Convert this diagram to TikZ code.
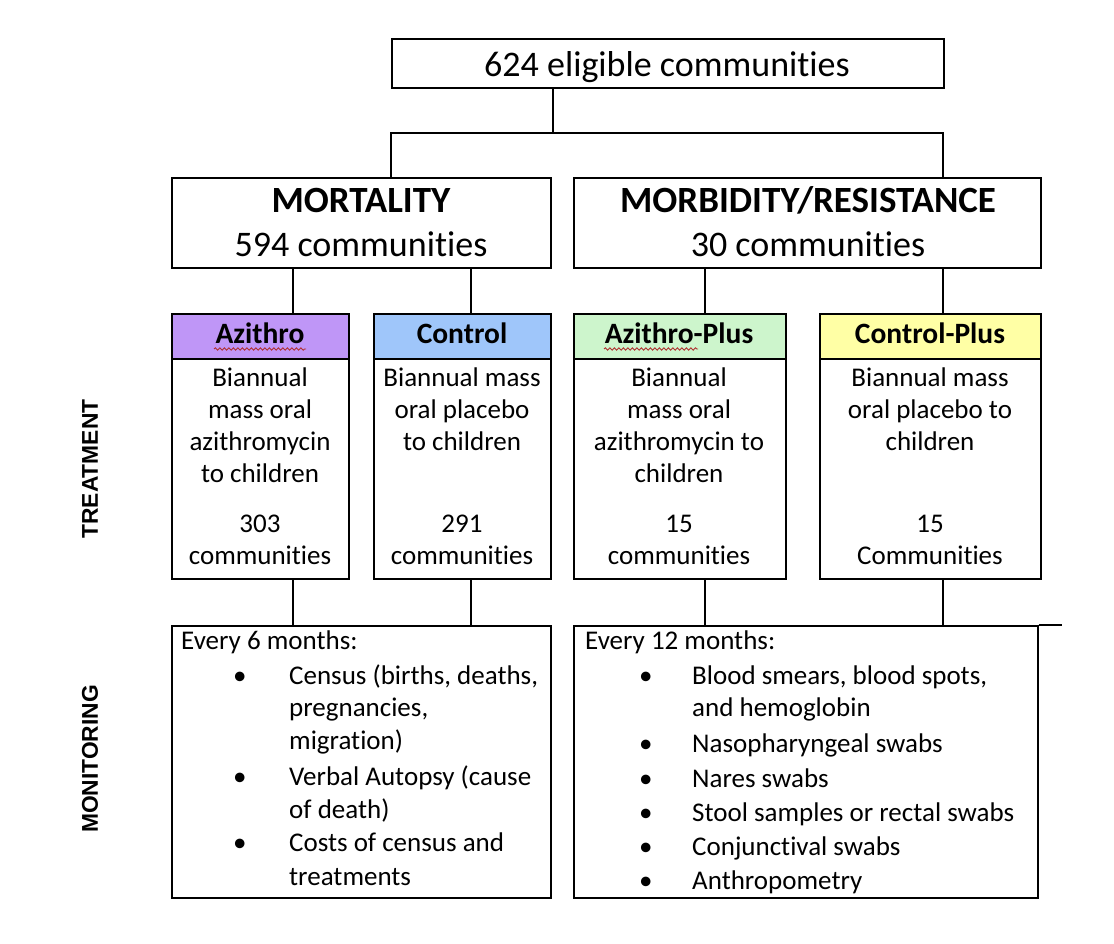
\documentclass[tikz,border=0pt]{standalone}
\usepackage{fontspec}
\setmainfont{Carlito}[Ligatures=NoCommon]
\newfontfamily\arialb{Liberation Sans}
\usetikzlibrary{decorations.pathmorphing}
\definecolor{cpurple}{HTML}{BF96F7}
\definecolor{cblue}{HTML}{9FC6FA}
\definecolor{cgreen}{HTML}{CDF5CC}
\definecolor{cyellow}{HTML}{FFFFA5}
\definecolor{squig}{HTML}{B03030}
\tikzset{
  box/.style={draw=black, line width=1.7pt, inner sep=0pt, anchor=north west},
  hdr/.style={box, minimum height=45pt},
  conn/.style={draw=black, line width=1.7pt, line join=miter},
  big/.style={font=\fontsize{36}{42}\selectfont, inner sep=0pt, anchor=base},
  bigb/.style={font=\fontsize{37}{42}\selectfont\bfseries, inner sep=0pt, anchor=base},
  hd/.style={font=\fontsize{29.5}{34}\selectfont\bfseries, inner sep=0pt, anchor=base},
  bt/.style={font=\fontsize{27}{32}\selectfont, inner sep=0pt, anchor=base},
  lt/.style={font=\fontsize{27}{32}\selectfont, inner sep=0pt, anchor=base west},
  side/.style={font=\arialb\bfseries\fontsize{22.8}{27}\selectfont, inner sep=0pt, rotate=90},
  wavy/.style={draw=squig, line width=0.9pt, decorate, decoration={snake, amplitude=1.2pt, segment length=4.5pt}}
}
\begin{document}
\begin{tikzpicture}[x=1pt,y=-1pt]
\useasboundingbox (0,0) rectangle (1114,944);
% boxes
\node[box, minimum width=552pt, minimum height=49pt] (top) at (391,38) {};
\node[box, minimum width=379pt, minimum height=90pt] (mort) at (171,177) {};
\node[box, minimum width=467pt, minimum height=90pt] (morb) at (573,177) {};
\node[box, minimum width=177pt, minimum height=265pt] (az) at (171,313) {};
\node[box, minimum width=177pt, minimum height=265pt] (ct) at (373,313) {};
\node[box, minimum width=212pt, minimum height=265pt] (azp) at (573,313) {};
\node[box, minimum width=221pt, minimum height=265pt] (cp) at (819,313) {};
\node[hdr, fill=cpurple, minimum width=177pt] (azh) at (171,313) {};
\node[hdr, fill=cblue, minimum width=177pt] (cth) at (373,313) {};
\node[hdr, fill=cgreen, minimum width=212pt] (azph) at (573,313) {};
\node[hdr, fill=cyellow, minimum width=221pt] (cph) at (819,313) {};
\node[box, minimum width=379pt, minimum height=272pt] (monL) at (171,625) {};
\node[box, minimum width=464pt, minimum height=272pt] (monR) at (573,625) {};
\coordinate (stray) at (1062,625);
\draw[conn] (monR.north east) -- (stray);
% connectors
\coordinate (j) at (553,133);
\coordinate (jl) at (391,133);
\coordinate (jr) at (943,133);
\draw[conn] (top.south -| j) -- (j);
\draw[conn] (mort.north -| jl) -- (jl) -- (jr) -- (morb.north -| jr);
\coordinate (xa) at (293,0);
\coordinate (xc) at (471,0);
\coordinate (xap) at (705,0);
\coordinate (xcp) at (943,0);
\draw[conn] (mort.south -| xa) -- (az.north -| xa);
\draw[conn] (mort.south -| xc) -- (ct.north -| xc);
\draw[conn] (morb.south -| xap) -- (azp.north -| xap);
\draw[conn] (morb.south -| xcp) -- (cp.north -| xcp);
\draw[conn] (az.south -| xa) -- (monL.north -| xa);
\draw[conn] (ct.south -| xc) -- (monL.north -| xc);
\draw[conn] (azp.south -| xap) -- (monR.north -| xap);
\draw[conn] (cp.south -| xcp) -- (monR.north -| xcp);
% top texts
\node[big] (t0) at (667,77) {624 eligible communities};
\node[bigb] (t1) at (361,213) {MORTALITY};
\node[big] (t2) at (361,257) {594 communities};
\node[bigb] (t3) at (808,213) {MORBIDITY/RESISTANCE};
\node[big] (t4) at (808,257) {30 communities};
% headers
\node[hd] (h1) at (260,343) {Azithro};
\node[hd] (h2) at (462,343) {Control};
\node[hd] (h3) at (679,343) {Azithro-Plus};
\node[hd] (h4) at (930,343) {Control-Plus};
\coordinate (w1a) at (214,349);
\coordinate (w1b) at (306,349);
\coordinate (w2a) at (604,349);
\coordinate (w2b) at (698,349);
\draw[wavy] (w1a) -- (w1b);
\draw[wavy] (w2a) -- (w2b);
% treatment bodies
\foreach \t [count=\i] in {Biannual, mass oral, azithromycin, to children}
  \node[bt] (azb\i) at (260,{386+32.3*(\i-1)}) {\t};
\foreach \t [count=\i] in {Biannual mass, oral placebo, to children}
  \node[bt] (ctb\i) at (462,{386+32.3*(\i-1)}) {\t};
\foreach \t [count=\i] in {Biannual, mass oral, azithromycin to, children}
  \node[bt] (apb\i) at (679,{386+32.3*(\i-1)}) {\t};
\foreach \t [count=\i] in {Biannual mass, oral placebo to, children}
  \node[bt] (cpb\i) at (930,{386+32.3*(\i-1)}) {\t};
\node[bt] (azn1) at (260,532) {303};
\node[bt] (azn2) at (260,564) {communities};
\node[bt] (ctn1) at (462,532) {291};
\node[bt] (ctn2) at (462,564) {communities};
\node[bt] (apn1) at (679,532) {15};
\node[bt] (apn2) at (679,564) {communities};
\node[bt] (cpn1) at (930,532) {15};
\node[bt] (cpn2) at (930,564) {Communities};
% monitoring left
\node[lt] (ml0) at (181,649) {Every 6 months:};
\node[lt] (ml1) at (289,684) {Census (births, deaths,};
\node[lt] (ml2) at (289,716) {pregnancies,};
\node[lt] (ml3) at (289,749) {migration)};
\node[lt] (ml4) at (289,785) {Verbal Autopsy (cause};
\node[lt] (ml5) at (289,818) {of death)};
\node[lt] (ml6) at (289,851) {Costs of census and};
\node[lt] (ml7) at (289,885) {treatments};
\foreach \y [count=\i] in {684,785,851}
  \node[lt] (mlb\i) at (233,\y) {•};
% monitoring right
\node[lt] (mr0) at (585,649) {Every 12 months:};
\node[lt] (mr1) at (692,684) {Blood smears, blood spots,};
\node[lt] (mr2) at (692,716) {and hemoglobin};
\node[lt] (mr3) at (692,752) {Nasopharyngeal swabs};
\node[lt] (mr4) at (692,787) {Nares swabs};
\node[lt] (mr5) at (692,821) {Stool samples or rectal swabs};
\node[lt] (mr6) at (692,855) {Conjunctival swabs};
\node[lt] (mr7) at (692,889) {Anthropometry};
\foreach \y [count=\i] in {684,752,787,821,855,889}
  \node[lt] (mrb\i) at (639,\y) {•};
% side labels
\node[side] (s1) at (90,469) {TREATMENT};
\node[side] (s2) at (90,759) {MONITORING};
\end{tikzpicture}
\end{document}
